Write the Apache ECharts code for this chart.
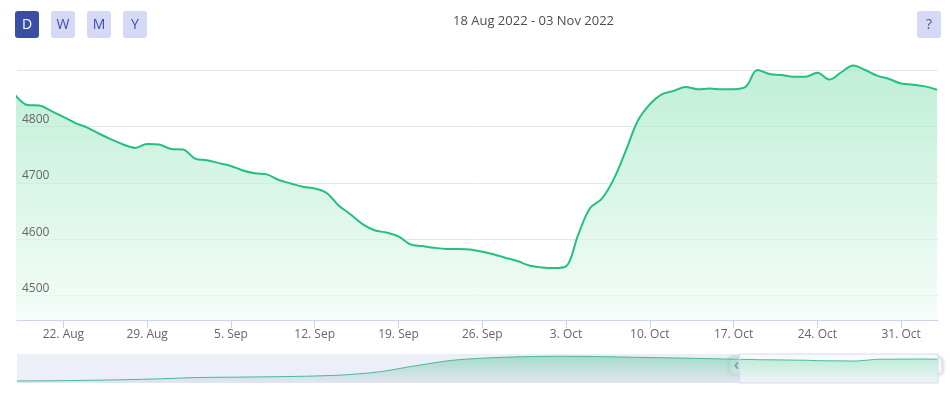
<!DOCTYPE html>
<html lang="en">
  <head>
    <meta charset="UTF-8" />
    <title>Index</title>
    <script src="https://cdn.jsdelivr.net/npm/echarts@6.0.0/dist/echarts.min.js"></script>
    <style>
      html, body { margin: 0; padding: 0; background: #fff; }
    </style>
  </head>
  <body>
    <div id="main" style="width: 950px; height: 397px"></div>
    <script type="text/javascript">
      // daily values, first one on 18 Aug 2022
      var startDay = [2022, 7, 18];
      var values = [
        4855, 4838, 4837, 4827, 4817, 4806, 4798, 4787, 4777, 4768,
        4762, 4769, 4768, 4760, 4759, 4743, 4740, 4735, 4730, 4722,
        4717, 4715, 4705, 4699, 4693, 4690, 4682, 4660, 4644, 4627,
        4616, 4612, 4605, 4591, 4588, 4585, 4583, 4583, 4582, 4578,
        4573, 4567, 4561, 4553, 4550, 4549, 4552, 4607, 4655, 4672,
        4707, 4757, 4810, 4839, 4857, 4863, 4870, 4866, 4867, 4866,
        4866, 4870, 4900, 4893, 4891, 4888, 4888, 4895, 4883, 4896,
        4908, 4900, 4890, 4884, 4876, 4874, 4871, 4865
      ];
      // navigator history before the window, every 14 days from 11 Nov 2021
      var navStartDay = [2021, 10, 11];
      var navValues = [
        1050, 1100, 1170, 1280, 1440, 1660, 1720, 1790, 1890, 2100,
        2630, 3680, 4640, 5080, 5300, 5380, 5340, 5220, 5110, 4990
      ];
      var tickDates = [
        [2022, 7, 22], [2022, 7, 29], [2022, 8, 5], [2022, 8, 12], [2022, 8, 19], [2022, 8, 26],
        [2022, 9, 3], [2022, 9, 10], [2022, 9, 17], [2022, 9, 24], [2022, 9, 31]
      ];
      var monthNames = ["Jan", "Feb", "Mar", "Apr", "May", "Jun", "Jul", "Aug", "Sep", "Oct", "Nov", "Dec"];
      var rangeText = "18 Aug 2022 - 03 Nov 2022";
      var buttons = ["D", "W", "M", "Y"];

      var DAY = 86400000;
      var xMin = Date.UTC(2022, 7, 18, 3);
      var xMax = Date.UTC(2022, 10, 3, 2);
      var yMin = 4457;
      var yMax = 4900;
      var navMin = Date.UTC(navStartDay[0], navStartDay[1], navStartDay[2]);

      var t0 = Date.UTC(startDay[0], startDay[1], startDay[2]);
      var mainData = values.map(function (v, i) { return [t0 + i * DAY, v]; });
      var navHistory = navValues.map(function (v, i) { return [navMin + i * 14 * DAY, v]; }).concat([mainData[0]]);
      var ticks = tickDates.map(function (d) { return Date.UTC(d[0], d[1], d[2]); });

      var font = "'Open Sans', 'Noto Sans', sans-serif";
      var myChart = echarts.init(document.getElementById("main"));

      function grad(top, bottom) {
        return new echarts.graphic.LinearGradient(0, 0, 0, 1, [
          { offset: 0, color: top },
          { offset: 1, color: bottom }
        ]);
      }

      var option = {
        animation: false,
        textStyle: { fontFamily: font },
        title: {
          text: rangeText,
          left: 453,
          top: 15,
          padding: 0,
          textStyle: { fontSize: 13, fontWeight: "normal", color: "#4d4d4d", fontFamily: font }
        },
        grid: [
          { left: 17, right: 12, top: 70, bottom: 77 },
          { left: 17, right: 12, top: 354, height: 29, show: true, backgroundColor: "#eceef8", borderWidth: 0 }
        ],
        xAxis: [
          {
            type: "value",
            gridIndex: 0,
            min: xMin,
            max: xMax,
            axisLine: { lineStyle: { color: "#ccd6eb" } },
            axisTick: { show: true, length: 8, lineStyle: { color: "#ccd6eb" }, customValues: ticks },
            axisLabel: {
              customValues: ticks,
              color: "#666",
              fontSize: 12,
              margin: 9,
              formatter: function (v) {
                var d = new Date(v);
                return d.getUTCDate() + ". " + monthNames[d.getUTCMonth()];
              }
            },
            splitLine: { show: false }
          },
          { type: "value", gridIndex: 1, min: navMin, max: xMax, show: false, splitLine: { show: false } }
        ],
        yAxis: [
          {
            // grid lines, under the series
            type: "value",
            gridIndex: 0,
            min: yMin,
            max: yMax,
            axisLine: { show: false },
            axisTick: { show: false },
            axisLabel: { show: false },
            splitLine: { lineStyle: { color: "#e6e6e6" } }
          },
          { type: "value", gridIndex: 1, min: 700, max: 5780, show: false, splitLine: { show: false } },
          {
            // labels, above the area
            type: "value",
            gridIndex: 0,
            position: "left",
            z: 10,
            min: yMin,
            max: yMax,
            axisLine: { show: false },
            axisTick: { show: false },
            splitLine: { show: false },
            axisLabel: {
              inside: true,
              showMinLabel: false,
              showMaxLabel: false,
              color: "#666",
              fontSize: 12,
              margin: 5,
              verticalAlign: "bottom",
              padding: [0, 0, 1, 0],
              formatter: function (v) { return String(v); }
            }
          }
        ],
        series: [
          {
            type: "line",
            xAxisIndex: 0,
            yAxisIndex: 0,
            data: mainData,
            smooth: 0.35,
            showSymbol: false,
            clip: false,
            lineStyle: { color: "#25bf7e", width: 2 },
            areaStyle: { color: grad("#a3e7c6", "#f0fbf6") }
          },
          {
            // navigator, outside the selected window
            type: "line",
            xAxisIndex: 1,
            yAxisIndex: 1,
            data: navHistory,
            smooth: 0.3,
            showSymbol: false,
            silent: true,
            lineStyle: { color: "#4bb995", width: 1 },
            areaStyle: { color: grad("#86d4b6", "#dde2ee") }
          },
          {
            // navigator, inside the selected window
            type: "line",
            xAxisIndex: 1,
            yAxisIndex: 1,
            data: mainData,
            smooth: 0.3,
            showSymbol: false,
            silent: true,
            lineStyle: { color: "#3fc08f", width: 1 },
            areaStyle: { color: grad("#a6e7c8", "#ecf1fb") }
          }
        ]
      };
      myChart.setOption(option);

      // range buttons, help button and the navigator window
      var graphics = [];
      buttons.forEach(function (b, i) {
        var active = i === 0;
        graphics.push({
          type: "group",
          left: 15 + i * 36,
          top: 11,
          children: [
            { type: "rect", shape: { x: 0, y: 0, width: 24, height: 27, r: 3 }, style: { fill: active ? "#3a4ea6" : "#d6d9f5" } },
            {
              type: "text",
              x: 12,
              y: 14,
              style: { text: b, fill: active ? "#fff" : "#3a4ea6", font: "14px " + font, align: "center", verticalAlign: "middle" }
            }
          ]
        });
      });
      graphics.push({
        type: "group",
        left: 917,
        top: 11,
        children: [
          { type: "rect", shape: { x: 0, y: 0, width: 24, height: 27, r: 3 }, style: { fill: "#d6d9f5" } },
          { type: "text", x: 12, y: 14, style: { text: "?", fill: "#555a70", font: "14px " + font, align: "center", verticalAlign: "middle" } }
        ]
      });

      var wx0 = myChart.convertToPixel({ xAxisIndex: 1 }, xMin);
      var wx1 = myChart.convertToPixel({ xAxisIndex: 1 }, xMax);
      graphics.push({
        type: "rect",
        z: 1,
        shape: { x: wx0, y: 354, width: wx1 - wx0, height: 29 },
        style: { fill: "#f8f9fd" }
      });
      graphics.push({
        type: "rect",
        z: 100,
        shape: { x: wx0, y: 354, width: wx1 - wx0, height: 29 },
        style: { fill: "none", stroke: "#d6d9ef", lineWidth: 1 }
      });
      [[wx0 - 3, "\u2039"], [wx1 - 2.5, "\u203a"]].forEach(function (h) {
        graphics.push({
          type: "group",
          z: 101,
          x: h[0],
          y: 366,
          children: [
            {
              type: "rect",
              shape: { x: -6.5, y: -8, width: 13, height: 16, r: 3 },
              style: { fill: "#fff", stroke: "#dfe2f0", lineWidth: 1, shadowBlur: 4, shadowColor: "rgba(0,0,0,0.25)" }
            },
            { type: "text", x: 0, y: -1, style: { text: h[1], fill: "#2f3450", font: "bold 16px " + font, align: "center", verticalAlign: "middle" } }
          ]
        });
      });
      myChart.setOption({ graphic: graphics });
    </script>
  </body>
</html>
